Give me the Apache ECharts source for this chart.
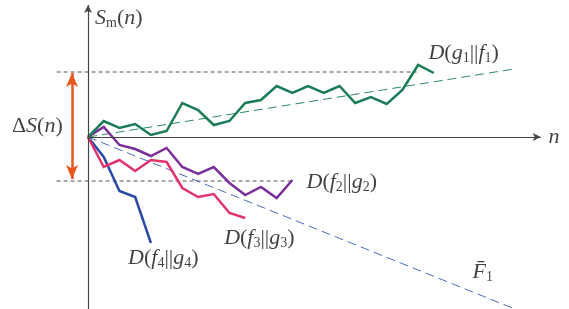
<!DOCTYPE html>
<html>
<head>
<meta charset="utf-8">
<script src="https://cdn.jsdelivr.net/npm/echarts@6/dist/echarts.min.js"></script>
<style>
  html, body { margin: 0; padding: 0; background: #fff; }
  #chart { width: 569px; height: 309px; }
</style>
</head>
<body>
<div id="chart"></div>
<script>
// 各条路径在第 n 步的累积值 S_m(n)
var greenD = [0, 1.6, 0.9, 1.3, 0.2, 0.6, 3.4, 2.7, 1.2, 1.6, 3.4, 3.7, 5.1, 4.4, 5.1, 4.4, 5.1, 3.4, 4.0, 3.3, 4.7, 7.2, 6.4]
var purpleD = [0, 1.0, -0.8, -1.2, -1.9, -1.1, -3.0, -3.7, -3.0, -4.6, -5.8, -5.0, -6.1, -4.3]
var pinkD = [0, -3.0, -2.3, -3.4, -2.3, -2.5, -5.1, -6.0, -5.7, -7.6, -8.1]
var blueD = [0, -2.0, -5.4, -6.0, -10.6]
// 虚线趋势 [n, S]
var greenTrend = [[0, 0], [27.1, 6.8]]
var blueTrend = [[0, 0], [27.0, -17.1]]
// 水平参考虚线
var upperRef = [[-2.0, 6.5], [20.9, 6.5]]
var lowerRef = [[-2.0, -4.4], [13.1, -4.4]]
// ΔS(n) 双箭头
var deltaArrow = [[-1.02, 6.4], [-1.02, -4.2]]
// 坐标轴
var axisX = [[0, 0], [28.8, 0]]
var axisY = [[0, -17.2], [0, 13.2]]
// 文字标注 [n, S, 文本]
var labels = [
  [0.45, 11.9, '{i|S}{s|m}{r|(}{i|n}{r|)}'],
  [21.66, 8.4, '{i|D}{r|(}{i|g}{s|1}{r|||}{i|f}{s|1}{r|)}'],
  [29.3, 0, '{i|n}'],
  [13.9, -4.5, '{i|D}{r|(}{i|f}{s|2}{r|||}{i|g}{s|2}{r|)}'],
  [8.66, -10.1, '{i|D}{r|(}{i|f}{s|3}{r|||}{i|g}{s|3}{r|)}'],
  [2.55, -12.1, '{i|D}{r|(}{i|f}{s|4}{r|||}{i|g}{s|4}{r|)}'],
  [24.46, -13.5, '{i|F\u0304}{s|1}'],
  [-4.84, 1.1, '{r|\u0394}{i|S}{r|(}{i|n}{r|)}']
]

var toPts = function(arr) {
  return arr.map(function(v, i) { return [i, v] })
}

var font = '"Liberation Serif", serif'

var solid = function(data, color) {
  return {
    type: 'line',
    data: toPts(data),
    symbol: 'none',
    clip: false,
    z: 3,
    lineStyle: { color: color, width: 2.5, join: 'miter' }
  }
}
var dashed = function(data, color, width, dash) {
  return {
    type: 'line',
    data: data,
    symbol: 'none',
    clip: false,
    z: 2,
    lineStyle: { color: color, width: width, type: dash }
  }
}
var arrowLine = function(pts, color, width, sym, size) {
  return {
    type: 'line',
    data: [],
    markLine: {
      silent: true,
      animation: false,
      symbol: sym,
      symbolSize: size,
      label: { show: false },
      lineStyle: { color: color, width: width, type: 'solid' },
      data: [[{ coord: pts[0] }, { coord: pts[1] }]]
    }
  }
}

var chart = echarts.init(document.getElementById('chart'))
chart.setOption({
  animation: false,
  backgroundColor: '#fff',
  grid: { left: 0, right: 0, top: 0, bottom: 0 },
  xAxis: {
    type: 'value', min: -5.6, max: 30.6,
    axisLine: { show: false }, axisTick: { show: false },
    axisLabel: { show: false }, splitLine: { show: false }
  },
  yAxis: {
    type: 'value', min: -17.2, max: 13.7,
    axisLine: { show: false }, axisTick: { show: false },
    axisLabel: { show: false }, splitLine: { show: false }
  },
  series: [
    arrowLine(axisY, '#444', 1.2, ['none', 'arrow'], [6, 8]),
    arrowLine(axisX, '#444', 1.2, ['none', 'arrow'], [6, 8]),
    arrowLine(deltaArrow, '#e8561c', 2.5, ['arrow', 'arrow'], [9, 14]),
    dashed(upperRef, '#555', 1, [4, 3]),
    dashed(lowerRef, '#555', 1, [4, 3]),
    dashed(greenTrend, '#2e8b5e', 1, [9, 5]),
    dashed(blueTrend, '#4a6cc0', 1, [9, 5]),
    solid(blueD, '#2a4aa5'),
    solid(pinkD, '#e3336f'),
    solid(purpleD, '#7a2f9a'),
    solid(greenD, '#1b7d55'),
    {
      type: 'scatter',
      symbolSize: 0,
      z: 5,
      data: labels.map(function(l) {
        return { value: [l[0], l[1]], label: { formatter: l[2] } }
      }),
      label: {
        show: true,
        position: 'right',
        distance: 0,
        rich: {
          i: { fontFamily: font, fontStyle: 'italic', fontSize: 22, color: '#111', lineHeight: 24 },
          r: { fontFamily: font, fontSize: 22, color: '#111', lineHeight: 24 },
          s: { fontFamily: font, fontSize: 14, color: '#111', lineHeight: 24, verticalAlign: 'bottom', padding: [10, 0, 0, 0] }
        }
      }
    }
  ]
})
</script>
</body>
</html>
